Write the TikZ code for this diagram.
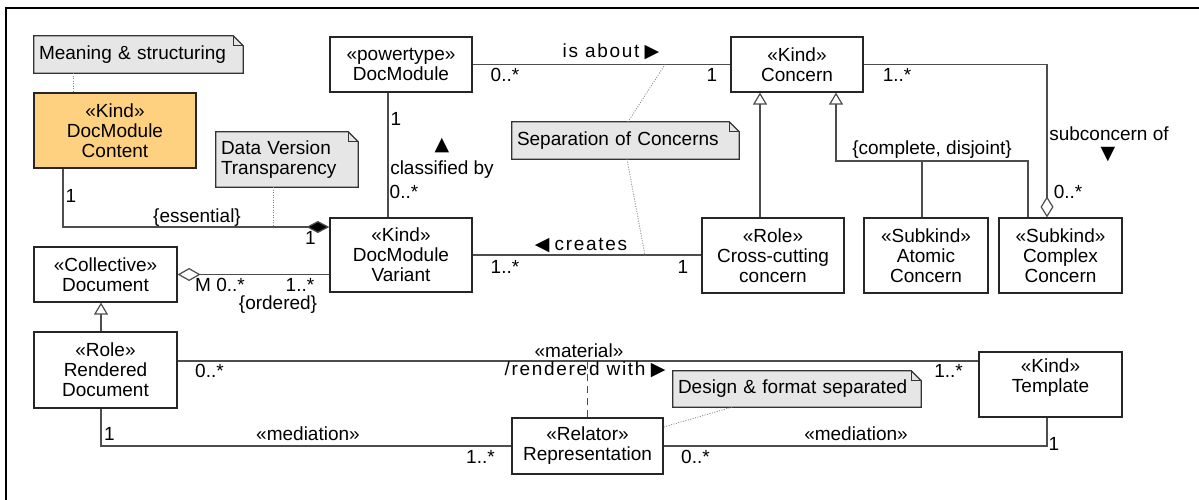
\documentclass[tikz,border=0pt]{standalone}
\usepackage{fontspec}
\setmainfont{Liberation Sans}
\newfontfamily\spacedfont[LetterSpace=9]{Liberation Sans}
\newfontfamily\symfont{DejaVu Sans}
\usetikzlibrary{arrows.meta,backgrounds}
\definecolor{kindorange}{HTML}{FDD17F}
\definecolor{notegray}{HTML}{E6E6E6}
\definecolor{linegray}{HTML}{4D4D4D}
\begin{document}
\begin{tikzpicture}[x=1pt,y=-1pt,
  every node/.style={font=\fontsize{19}{20}\selectfont},
  cls/.style={draw=black!85, line width=1.2pt, fill=white, align=center, inner sep=0pt},
  kindbox/.style={cls, fill=kindorange},
  notetxt/.style={align=left, inner xsep=5pt, inner ysep=0pt},
  lbl/.style={inner sep=0pt, text height=14pt, text depth=4pt},
  conn/.style={draw=linegray, line width=1.2pt},
  notelink/.style={draw=gray, line width=0.8pt, dash pattern=on 1pt off 1.5pt},
  notebox/.style={draw=black!80, line width=1.2pt, fill=notegray},
  gen/.style={conn, -{Triangle[fill=white, length=12pt, width=14pt]}},
  compo/.style={conn, -{Diamond[fill=black, length=23pt, width=12pt]}},
  aggstart/.style={conn, {Diamond[fill=white, length=23pt, width=13pt]}-},
  aggend/.style={conn, -{Diamond[fill=white, length=21pt, width=13pt]}}
]
\useasboundingbox (0,0) rectangle (1199,500);
\draw[line width=1.5pt] (6,500) -- (6,8) -- (1199,8);

% classes
\node[kindbox, minimum width=162pt, minimum height=75pt] (content) at (115,130.5) {«Kind»\\DocModule\\Content};
\node[cls, minimum width=142pt, minimum height=55pt] (ptype) at (401,64.5) {«powertype»\\DocModule};
\node[cls, minimum width=132pt, minimum height=55pt] (concern) at (797,64.5) {«Kind»\\Concern};
\node[cls, minimum width=142pt, minimum height=74pt] (variant) at (401,255) {«Kind»\\DocModule\\Variant};
\node[cls, minimum width=143pt, minimum height=55pt] (document) at (105.5,274.5) {«Collective»\\Document};
\node[cls, minimum width=143pt, minimum height=76pt] (rendered) at (105.5,370) {«Role»\\Rendered\\Document};
\node[cls, minimum width=151pt, minimum height=56pt] (repres) at (587.5,446) {«Relator»\\Representation};
\node[cls, minimum width=143pt, minimum height=65pt] (template) at (1050.5,384.5) {};
\node[align=center, inner sep=0pt] (templatetext) at (1050.5,378) {«Kind»\\Template};
\node[cls, minimum width=142pt, minimum height=75pt] (crosscut) at (773,255.5) {«Role»\\Cross-cutting\\concern};
\node[cls, minimum width=124pt, minimum height=75pt] (atomic) at (926,255.5) {«Subkind»\\Atomic\\Concern};
\node[cls, minimum width=123pt, minimum height=75pt] (complex) at (1060.5,255.5) {«Subkind»\\Complex\\Concern};

% notes
\node[notetxt, text width=199pt, minimum height=37pt] (meaning) at (138.5,54.5) {Meaning \& structuring};
\node[notetxt, text width=132pt, minimum height=55pt] (dataver) at (287,159.5) {Data Version\\Transparency};
\node[notetxt, text width=217pt, minimum height=37pt] (sepnote) at (625.5,140.5) {Separation of Concerns};
\node[notetxt, text width=238pt, minimum height=36pt] (design) at (797,389) {Design \& format separated};
\begin{scope}[on background layer]
\foreach \n in {meaning,dataver,sepnote,design}{
  \draw[notebox] (\n.south west) -- (\n.north west) -- ([xshift=-10pt]\n.north east)
     -- ([yshift=-10pt]\n.north east) -- (\n.south east) -- cycle;
  \draw[line width=0.8pt, draw=black!80] ([xshift=-10pt]\n.north east)
     -- ([xshift=-10pt,yshift=-10pt]\n.north east) -- ([yshift=-10pt]\n.north east);
}
\end{scope}

% coordinates
\coordinate (essl) at ([yshift=28pt]variant.west);
\coordinate (matl) at ([yshift=9pt]rendered.east);
\coordinate (gsj) at (836,161);
\coordinate (isab) at (665,64.5);
\coordinate (crl) at (645,255.5);

% connectors
\draw[conn] (ptype.east) -- (concern.west);
\draw[conn] ([xshift=-13pt]ptype.south) -- ([xshift=-13pt]variant.north);
\draw[compo] ([xshift=-52pt]content.south) |- (essl);
\draw[aggstart] (document.east) -- (document.east -| variant.west);
\draw[gen] ([xshift=-4.5pt]rendered.north) -- ([xshift=-4.5pt]document.south);
\draw[conn] (variant.east) -- (variant.east -| crosscut.west);
\draw[gen] ([xshift=-13pt]crosscut.north) -- ([xshift=-13pt]crosscut.north |- concern.south);
\draw[gen] ([xshift=-32.5pt]complex.north) |- (gsj) -- (gsj |- concern.south);
\draw[conn] ([xshift=-4pt]atomic.north) -- ([xshift=-4pt]atomic.north |- gsj);
\draw[aggend] (concern.east) -| ([xshift=-13.5pt]complex.north);
\draw[conn] (matl) -- (matl -| template.west);
\draw[conn, dash pattern=on 7pt off 5pt] (repres.north) -- (repres.north |- matl);
\draw[conn] ([xshift=-4.5pt]rendered.south) |- (repres.west);
\draw[conn] (repres.east) -| ([xshift=-3.5pt]template.south);

% note links
\draw[notelink] ([xshift=-65.5pt]meaning.south) -- ([xshift=-65.5pt]meaning.south |- content.north);
\draw[notelink] ([xshift=-14pt]dataver.south) -- ([xshift=-14pt]dataver.south |- essl);
\draw[notelink] ([xshift=2.5pt]sepnote.north) -- (isab);
\draw[notelink] ([xshift=1.5pt]sepnote.south) -- (crl);
\draw[notelink] ([xshift=-65pt]design.south) -- ([yshift=19pt]repres.east);

% labels
\node[lbl] (lisabout) at (611,53) {{\spacedfont is about} {\symfont ▶}};
\node[lbl] (m1) at (505,77) {0..*};
\node[lbl] (m2) at (712,77) {1};
\node[lbl] (m3) at (396,120) {1};
\node[inner sep=0pt] (lup) at (442,146) {\symfont ▲};
\node[lbl] (lclass) at (442,170) {classified by};
\node[lbl] (m4) at (404,193) {0..*};
\node[lbl] (m5) at (71,197) {1};
\node[lbl] (less) at (197,217) {\{essential\}};
\node[lbl] (m6) at (310.5,239) {1};
\node[lbl] (m7) at (220,286) {M 0..*};
\node[lbl] (m8) at (300,286) {1..*};
\node[lbl] (lord) at (278,304) {\{ordered\}};
\node[lbl] (lcreates) at (581,245) {{\symfont ◀} {\spacedfont creates}};
\node[lbl] (m9) at (505,268) {1..*};
\node[lbl] (m10) at (683,268) {1};
\node[lbl] (lcd) at (932,149) {\{complete, disjoint\}};
\node[lbl] (m11) at (897,77) {1..*};
\node[lbl] (lsub) at (1109,135) {subconcern of};
\node[inner sep=0pt] (ldown) at (1108,155) {\symfont ▼};
\node[lbl] (m12) at (1068,193) {0..*};
\node[lbl] (lmat) at (579,352) {«material»};
\node[lbl] (lrw) at (585,370) {{\spacedfont /rendered with} {\symfont ▶}};
\node[lbl] (m13) at (209.5,372) {0..*};
\node[lbl] (m14) at (948.5,372) {1..*};
\node[lbl] (m15) at (109.5,435) {1};
\node[lbl] (lmed1) at (308,435) {«mediation»};
\node[lbl] (m16) at (480.5,458) {1..*};
\node[lbl] (lmed2) at (856,435) {«mediation»};
\node[lbl] (m17) at (695.5,458) {0..*};
\node[lbl] (m18) at (1054,445) {1};
\end{tikzpicture}
\end{document}
